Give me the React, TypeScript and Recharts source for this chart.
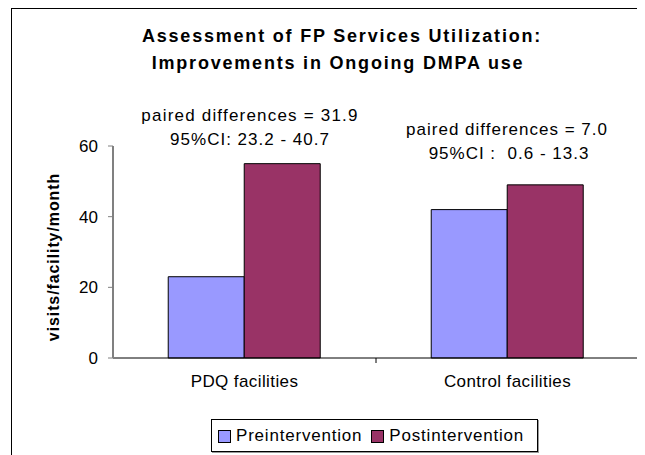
import { BarChart, Bar, XAxis, YAxis } from 'recharts'

const categories = ['PDQ facilities', 'Control facilities']
const preValues = [23, 42]
const postValues = [55, 49]
const yTicks = [0, 20, 40, 60]
const annotations = [
  ['paired differences = 31.9', '95%CI: 23.2 - 40.7'],
  ['paired differences = 7.0', '95%CI :  0.6 - 13.3'],
]

const FONT = '"Liberation Sans", Arial, sans-serif'
const PRE = '#9999FF'
const POST = '#993366'

const data = categories.map((name, i) => ({
  name,
  pre: preValues[i],
  post: postValues[i],
}))

// category label plus a tick mark on the right boundary of each band
function CategoryTick(props: any) {
  const { x, y, payload } = props
  const half = payload?.offset ?? 131.5
  return (
    <g>
      <line x1={x + half} y1={y - 8} x2={x + half} y2={y - 3} stroke="#000" />
      <text
        x={x}
        y={y + 21}
        textAnchor="middle"
        fontFamily={FONT}
        fontSize={17}
        letterSpacing={0.4}
        fill="#000"
      >
        {payload.value}
      </text>
    </g>
  )
}

function YLabel(props: any) {
  const vb = props.viewBox || { x: 45, y: 138, width: 60, height: 212 }
  const cx = vb.x
  const cy = vb.y + vb.height / 2 + 5
  return (
    <text
      x={cx}
      y={cy}
      transform={`rotate(-90, ${cx}, ${cy})`}
      textAnchor="middle"
      dominantBaseline="central"
      fontFamily={FONT}
      fontSize={16}
      fontWeight="bold"
      letterSpacing={0.9}
      fill="#000"
    >
      visits/facility/month
    </text>
  )
}

const textStyle: React.CSSProperties = {
  position: 'absolute',
  transform: 'translate(-50%, -50%)',
  whiteSpace: 'pre',
  fontFamily: FONT,
  color: '#000',
}

export default function App() {
  return (
    <div style={{ position: 'relative', width: 637, height: 447, overflow: 'hidden', background: '#fff' }}>
      <div
        style={{
          position: 'absolute',
          left: 3,
          top: 0,
          width: 700,
          height: 500,
          borderTop: '1px solid #000',
          borderLeft: '1px solid #000',
        }}
      />
      <div style={{ ...textStyle, left: 334, top: 28, fontSize: 18, fontWeight: 'bold', letterSpacing: 1.8 }}>
        Assessment of FP Services Utilization:
      </div>
      <div style={{ ...textStyle, left: 330, top: 55, fontSize: 18, fontWeight: 'bold', letterSpacing: 1.8 }}>
        Improvements in Ongoing DMPA use
      </div>
      <div style={{ ...textStyle, left: 242, top: 108, fontSize: 17, letterSpacing: 1.2 }}>{annotations[0][0]}</div>
      <div style={{ ...textStyle, left: 242, top: 132, fontSize: 17, letterSpacing: 1.0 }}>{annotations[0][1]}</div>
      <div style={{ ...textStyle, left: 499, top: 122, fontSize: 17, letterSpacing: 1.0 }}>{annotations[1][0]}</div>
      <div style={{ ...textStyle, left: 501, top: 146, fontSize: 17, letterSpacing: 1.0 }}>{annotations[1][1]}</div>

      <div style={{ position: 'absolute', left: 0, top: 0 }}>
        <BarChart
          width={637}
          height={447}
          data={data}
          margin={{ top: 138, right: 6, bottom: 67, left: 45 }}
          barCategoryGap="21%"
          barGap={0}
        >
          <XAxis
            dataKey="name"
            tick={<CategoryTick />}
            tickLine={false}
            axisLine={{ stroke: '#000' }}
            height={30}
            interval={0}
          />
          <YAxis
            domain={[0, 60]}
            ticks={yTicks}
            width={60}
            tickSize={5}
            tickMargin={10}
            tickLine={{ stroke: '#808080' }}
            axisLine={{ stroke: '#808080', strokeWidth: 2 }}
            tick={{ fill: '#000', fontSize: 17, fontFamily: FONT }}
            label={<YLabel />}
          />
          <Bar dataKey="pre" name="Preintervention" fill={PRE} stroke="#000" strokeWidth={1} isAnimationActive={false} />
          <Bar dataKey="post" name="Postintervention" fill={POST} stroke="#000" strokeWidth={1} isAnimationActive={false} />
        </BarChart>
      </div>

      <div
        style={{
          position: 'absolute',
          left: 203,
          top: 411,
          width: 327,
          height: 33,
          border: '1px solid #000',
          boxShadow: '1px 1px 0 #999',
          display: 'flex',
          alignItems: 'center',
          fontFamily: FONT,
          fontSize: 17,
          letterSpacing: 0.8,
          boxSizing: 'border-box',
          background: '#fff',
        }}
      >
        {[
          { label: 'Preintervention', color: PRE },
          { label: 'Postintervention', color: POST },
        ].map((item, i) => (
          <div key={item.label} style={{ display: 'flex', alignItems: 'center', marginLeft: i === 0 ? 6 : 9 }}>
            <span
              style={{
                display: 'inline-block',
                width: 11,
                height: 11,
                background: item.color,
                border: '1px solid #000',
                marginRight: 5,
                marginTop: 2,
              }}
            />
            {item.label}
          </div>
        ))}
      </div>
    </div>
  )
}
